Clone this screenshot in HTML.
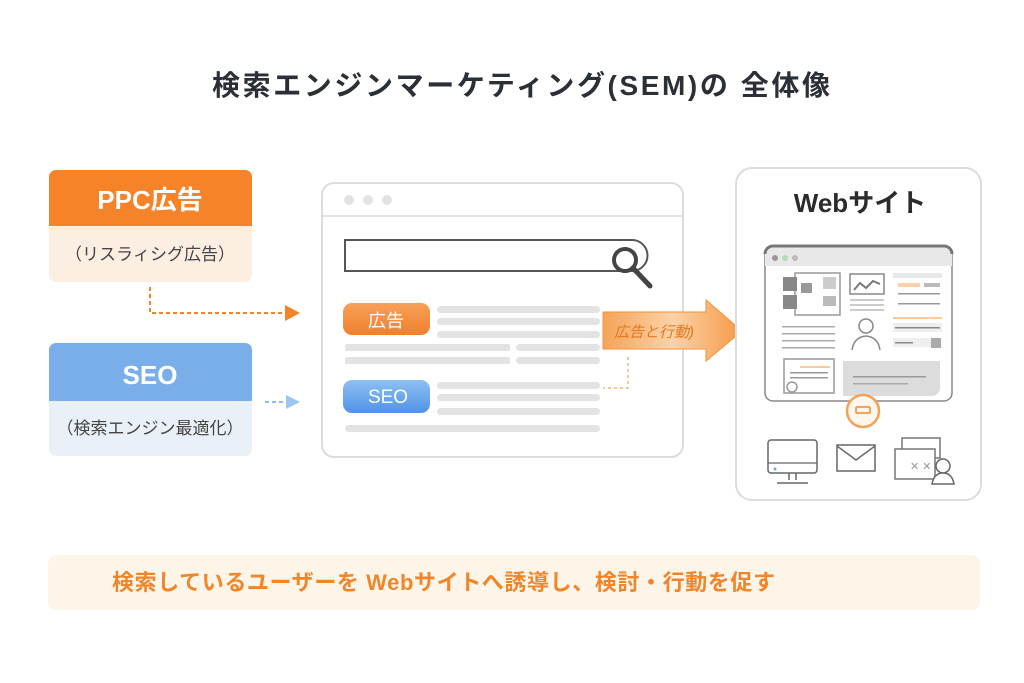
<!DOCTYPE html>
<html><head><meta charset="utf-8"><style>
html,body{margin:0;padding:0;background:#fff;}
svg{display:block}
text{font-family:"Liberation Sans","Noto Sans CJK JP",sans-serif;}
</style></head><body>
<svg width="1024" height="683" viewBox="0 0 1024 683" xmlns="http://www.w3.org/2000/svg">
<defs>
<linearGradient id="og" x1="0" y1="0" x2="0" y2="1"><stop offset="0" stop-color="#f7a05a"/><stop offset="1" stop-color="#f0812c"/></linearGradient>
<linearGradient id="bg" x1="0" y1="0" x2="0" y2="1"><stop offset="0" stop-color="#8fc0f3"/><stop offset="1" stop-color="#4f93e6"/></linearGradient>
<linearGradient id="ar" x1="0" y1="0" x2="1" y2="0"><stop offset="0" stop-color="#f5a356"/><stop offset="0.5" stop-color="#fbd2a8"/><stop offset="1" stop-color="#f59a45"/></linearGradient>
</defs>
<rect width="1024" height="683" fill="#fff"/>
<text x="212" y="95" font-size="28" font-weight="bold" fill="#2b2f36" textLength="618" lengthAdjust="spacing">検索エンジンマーケティング(SEM)の 全体像</text>

<rect x="49" y="170" width="203" height="112" rx="7" fill="#fdeee2"/>
<path d="M49 226 V177 a7 7 0 0 1 7 -7 H245 a7 7 0 0 1 7 7 V226 Z" fill="#f5832a"/>
<text x="150" y="209" font-size="26" font-weight="bold" fill="#fff" text-anchor="middle">PPC広告</text>
<text x="150" y="260" font-size="17" fill="#444" text-anchor="middle">（リスラィシグ広告）</text>
<path d="M150 287 V313 H285" fill="none" stroke="#f5832a" stroke-width="2" stroke-dasharray="4,3"/>
<path d="M285 305 L300 313 L285 321 Z" fill="#f5832a"/>

<rect x="49" y="343" width="203" height="113" rx="7" fill="#eaf0f8"/>
<path d="M49 401 V350 a7 7 0 0 1 7 -7 H245 a7 7 0 0 1 7 7 V401 Z" fill="#7aaee8"/>
<text x="150" y="384" font-size="26" font-weight="bold" fill="#fff" text-anchor="middle">SEO</text>
<text x="150" y="434" font-size="17" fill="#444" text-anchor="middle">（検索エンジン最適化）</text>
<path d="M265 402 H287" fill="none" stroke="#8fbcee" stroke-width="2" stroke-dasharray="4,3"/>
<path d="M286 395 L300 402 L286 409 Z" fill="#9cc6f2"/>

<rect x="322" y="183" width="361" height="274" rx="12" fill="#fff" stroke="#dcdcdc" stroke-width="2"/>
<line x1="323" y1="216" x2="682" y2="216" stroke="#e2e2e2" stroke-width="2"/>
<circle cx="349" cy="200" r="5" fill="#e2e2e2"/><circle cx="368" cy="200" r="5" fill="#e2e2e2"/><circle cx="387" cy="200" r="5" fill="#e2e2e2"/>
<path d="M345 240 H632 a15 15 0 0 1 0 31 H345 Z" fill="#fff" stroke="#555" stroke-width="2"/>
<circle cx="625" cy="260" r="11" fill="#fff" stroke="#444" stroke-width="4"/>
<line x1="633" y1="268" x2="650" y2="286" stroke="#444" stroke-width="5" stroke-linecap="round"/>
<rect x="343" y="303" width="87" height="32" rx="9" fill="url(#og)"/>
<text x="386" y="327" font-size="18" fill="#fff" text-anchor="middle">広告</text>
<g fill="#e3e3e3">
<rect x="437" y="306" width="163" height="7" rx="3.5"/><rect x="437" y="318" width="163" height="7" rx="3.5"/><rect x="437" y="331" width="163" height="7" rx="3.5"/>
<rect x="345" y="344" width="165" height="7" rx="2"/><rect x="516" y="344" width="84" height="7" rx="3.5"/>
<rect x="345" y="357" width="165" height="7" rx="2"/><rect x="516" y="357" width="84" height="7" rx="3.5"/>
<rect x="437" y="382" width="163" height="7" rx="3.5"/><rect x="437" y="394" width="163" height="7" rx="3.5"/><rect x="437" y="408" width="163" height="7" rx="3.5"/>
<rect x="345" y="425" width="255" height="7" rx="3.5"/>
</g>
<rect x="343" y="380" width="87" height="33" rx="9" fill="url(#bg)"/>
<text x="388" y="403" font-size="19" fill="#fff" text-anchor="middle" font-family="Liberation Serif,serif">SEO</text>
<path d="M628 357 V388 H603" fill="none" stroke="#f7b27a" stroke-width="1.5" stroke-dasharray="3,3"/>
<path d="M603 312 H706 V300 L742 331 L706 361 V349 H603 Z" fill="url(#ar)" stroke="#f5913a" stroke-width="1"/>
<text x="654" y="337" font-size="15" font-style="italic" fill="#e8761e" text-anchor="middle">広告と行動)</text>

<rect x="736" y="168" width="245" height="332" rx="16" fill="#fff" stroke="#dcdcdc" stroke-width="2"/>
<text x="860" y="212" font-size="26" font-weight="bold" fill="#2b2b2b" text-anchor="middle">Webサイト</text>
<rect x="765" y="246" width="187" height="155" rx="8" fill="#fff" stroke="#888" stroke-width="1.5"/>
<path d="M765 254 a8 8 0 0 1 8 -8 H944 a8 8 0 0 1 8 8 V266 H765 Z" fill="#e8e8e8"/>
<path d="M765 254 a8 8 0 0 1 8 -8 H944 a8 8 0 0 1 8 8" fill="none" stroke="#777" stroke-width="3"/>
<circle cx="775" cy="258" r="3" fill="#999"/><circle cx="785" cy="258" r="3" fill="#b8d8b8"/><circle cx="795" cy="258" r="3" fill="#bbb"/>
<rect x="795" y="273" width="45" height="42" fill="none" stroke="#999" stroke-width="1.5"/>
<rect x="783" y="277" width="14" height="14" fill="#888"/><rect x="783" y="295" width="14" height="14" fill="#888"/>
<rect x="801" y="283" width="11" height="10" fill="#999"/><rect x="823" y="277" width="13" height="12" fill="#ccc"/><rect x="823" y="296" width="13" height="10" fill="#bbb"/>
<rect x="850" y="274" width="34" height="20" fill="none" stroke="#888" stroke-width="1.5"/>
<path d="M854 290 L860 283 L866 288 L873 281 L880 284" fill="none" stroke="#777" stroke-width="2"/>
<g fill="#ccc"><rect x="850" y="299" width="34" height="2"/><rect x="850" y="304" width="34" height="2"/><rect x="850" y="309" width="34" height="2"/></g>
<rect x="893" y="273" width="49" height="5" fill="#e8e8e8"/>
<rect x="898" y="283" width="22" height="4" fill="#fbd0a8"/><rect x="924" y="283" width="16" height="4" fill="#bbb"/>
<rect x="898" y="293" width="42" height="1.5" fill="#999"/><rect x="898" y="303" width="42" height="1.5" fill="#999"/>
<rect x="893" y="317" width="49" height="2" fill="#fbc99a"/>
<rect x="893" y="323" width="49" height="9" fill="#eee"/><rect x="895" y="327" width="45" height="1.5" fill="#888"/>
<rect x="893" y="338" width="38" height="9" fill="#eee"/><rect x="895" y="342" width="18" height="1.5" fill="#888"/>
<rect x="931" y="338" width="10" height="10" fill="#aaa"/>
<g fill="#aaa"><rect x="782" y="326" width="53" height="1.5"/><rect x="782" y="333" width="53" height="1.5"/><rect x="782" y="340" width="53" height="1.5"/><rect x="782" y="347" width="53" height="1.5"/></g>
<circle cx="866" cy="326" r="7" fill="none" stroke="#888" stroke-width="1.5"/>
<path d="M852 350 Q854 337 866 336 Q878 337 880 350" fill="none" stroke="#888" stroke-width="1.5"/>
<rect x="784" y="359" width="50" height="34" fill="none" stroke="#999" stroke-width="1.5"/>
<rect x="800" y="366" width="30" height="2" fill="#fbc99a"/><rect x="790" y="372" width="38" height="1.5" fill="#999"/><rect x="790" y="377" width="38" height="1.5" fill="#999"/>
<circle cx="792" cy="387" r="5" fill="#fff" stroke="#999" stroke-width="1.5"/>
<path d="M843 361 H940 V388 a8 8 0 0 1 -8 8 H843 Z" fill="#dcdcdc"/>
<rect x="853" y="376" width="73" height="1.5" fill="#999"/><rect x="853" y="383" width="55" height="1.5" fill="#aaa"/>
<circle cx="863" cy="411" r="16" fill="#fff6ec" stroke="#f5a15a" stroke-width="2.5"/>
<rect x="856" y="407" width="14" height="6" rx="1" fill="none" stroke="#f08a2c" stroke-width="1.5"/>
<rect x="768" y="440" width="49" height="33" rx="3" fill="#fff" stroke="#666" stroke-width="1.5"/>
<line x1="768" y1="463" x2="817" y2="463" stroke="#666" stroke-width="1.2"/>
<circle cx="775" cy="469" r="1.5" fill="#6ab"/>
<path d="M789 473 V480 M796 473 V480 M777 483 H808" stroke="#666" stroke-width="1.5"/>
<rect x="837" y="445" width="38" height="26" fill="#fff" stroke="#666" stroke-width="1.5"/>
<path d="M837 446 L856 460 L875 446" fill="none" stroke="#666" stroke-width="1.5"/>
<rect x="902" y="438" width="38" height="20" fill="#fff" stroke="#777" stroke-width="1.5"/>
<rect x="895" y="449" width="40" height="30" fill="#fff" stroke="#777" stroke-width="1.5"/>
<text x="910" y="470" font-size="11" fill="#999">✕ ✕</text>
<circle cx="943" cy="466" r="7" fill="#fff" stroke="#666" stroke-width="1.5"/>
<path d="M932 484 Q934 473 943 473 Q952 473 954 484 Z" fill="#fff" stroke="#666" stroke-width="1.5"/>

<rect x="48" y="555" width="932" height="55" rx="8" fill="#fef5e9"/>
<text x="112" y="590" font-size="22" font-weight="bold" fill="#f0852a" textLength="663" lengthAdjust="spacing">検索しているユーザーを Webサイトへ誘導し、検討・行動を促す</text>
</svg>
</body></html>
